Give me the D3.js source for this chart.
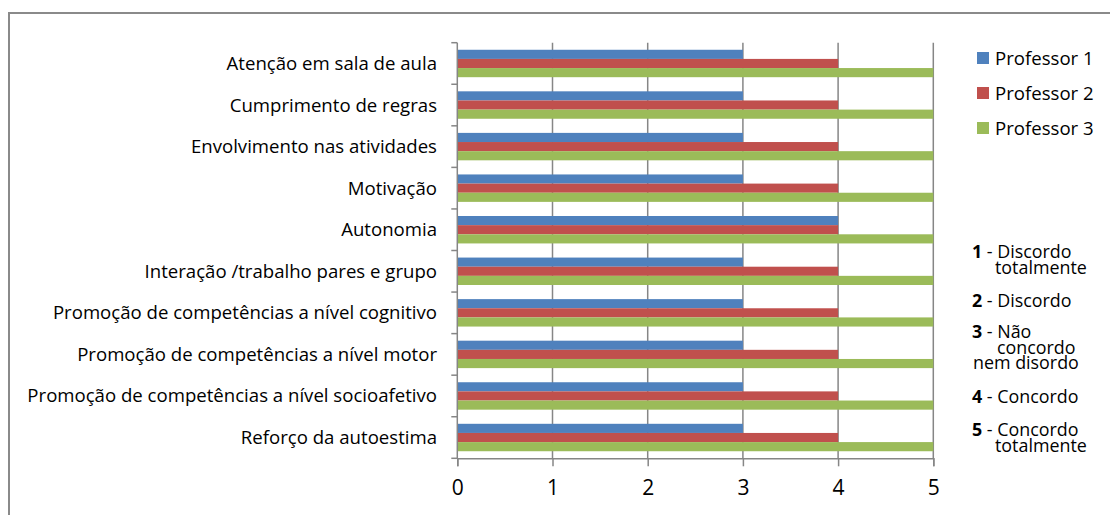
<!DOCTYPE html>
<html>
<head>
<meta charset="utf-8">
<script src="https://cdn.jsdelivr.net/npm/d3@7"></script>
<style>
  html, body { margin: 0; padding: 0; background: #fff; }
  svg { display: block; }
  text { font-family: "Open Sans", "Noto Sans", sans-serif; fill: #000; }
</style>
</head>
<body>
<svg id="chart" width="1110" height="515"></svg>
<script>
// Categories, top to bottom
const categories = [
  "Atenção em sala de aula",
  "Cumprimento de regras",
  "Envolvimento nas atividades",
  "Motivação",
  "Autonomia",
  "Interação /trabalho pares e grupo",
  "Promoção de competências a nível cognitivo",
  "Promoção de competências a nível motor",
  "Promoção de competências a nível socioafetivo",
  "Reforço da autoestima"
];
const seriesNames = ["Professor 1", "Professor 2", "Professor 3"];
const professor1 = [3, 3, 3, 3, 4, 3, 3, 3, 3, 3];
const professor2 = [4, 4, 4, 4, 4, 4, 4, 4, 4, 4];
const professor3 = [5, 5, 5, 5, 5, 5, 5, 5, 5, 5];
const xTicks = [0, 1, 2, 3, 4, 5];
const scaleNotes = [
  { num: "1", lines: [" - Discordo", "totalmente"] },
  { num: "2", lines: [" - Discordo"] },
  { num: "3", lines: [" - Não", "concordo", "nem disordo"] },
  { num: "4", lines: [" - Concordo"] },
  { num: "5", lines: [" - Concordo", "totalmente"] }
];
const colors = ["#4f81bd", "#c0504d", "#9bbb59"];

const seriesValues = [professor1, professor2, professor3];
const rows = categories.map((c, i) => ({
  category: c,
  values: seriesNames.map((s, j) => ({ series: s, value: seriesValues[j][i], idx: j }))
}));

const svg = d3.select("#chart");
const axisColor = "#868686";

// outer frame
svg.append("path")
  .attr("d", "M9,1200 L9,13 L1200,13")
  .attr("fill", "none")
  .attr("stroke", "#8a8a8a")
  .attr("stroke-width", 2);

const plot = { left: 457.3, right: 933.3, top: 42.7, bottom: 458.3 };

const x = d3.scaleLinear().domain([0, 5]).range([plot.left, plot.right]);
const y = d3.scaleBand().domain(categories).range([plot.top, plot.bottom])
  .paddingInner(0.34).paddingOuter(0.17);
const ySub = d3.scaleBand().domain(seriesNames).range([0, y.bandwidth()]).padding(0);

// vertical gridlines
svg.append("g").selectAll("line").data(xTicks.filter(t => t > 0)).join("line")
  .attr("x1", d => x(d)).attr("x2", d => x(d))
  .attr("y1", plot.top).attr("y2", plot.bottom)
  .attr("stroke", axisColor).attr("stroke-width", 1.5);

// bars
const groups = svg.append("g").selectAll("g").data(rows).join("g")
  .attr("transform", d => `translate(0,${y(d.category)})`);
groups.selectAll("rect").data(d => d.values).join("rect")
  .attr("x", x(0))
  .attr("y", d => ySub(d.series))
  .attr("width", d => x(d.value) - x(0))
  .attr("height", ySub.bandwidth())
  .attr("fill", d => colors[d.idx]);

// x axis
const xAxis = d3.axisBottom(x).tickValues(xTicks).tickSize(8).tickPadding(14)
  .tickFormat(d3.format("d"));
const gx = svg.append("g").attr("transform", `translate(0,${plot.bottom})`).call(xAxis);
gx.select(".domain").attr("stroke", axisColor).attr("stroke-width", 1.5);
gx.selectAll(".tick line").attr("stroke", axisColor).attr("stroke-width", 1.5);
gx.selectAll(".tick text")
  .attr("font-family", "'Open Sans', sans-serif")
  .attr("font-size", 21).attr("fill", "#000");

// y axis: line with ticks on category boundaries
const boundaries = d3.range(categories.length + 1).map(i => plot.top + i * y.step());
svg.append("line")
  .attr("x1", plot.left).attr("x2", plot.left)
  .attr("y1", plot.top).attr("y2", plot.bottom)
  .attr("stroke", axisColor).attr("stroke-width", 1.5);
svg.append("g").selectAll("line").data(boundaries).join("line")
  .attr("x1", plot.left - 6).attr("x2", plot.left)
  .attr("y1", d => d).attr("y2", d => d)
  .attr("stroke", axisColor).attr("stroke-width", 1.5);

// category labels
const labels = svg.append("g").selectAll("text").data(categories).join("text")
  .attr("x", 437)
  .attr("y", d => y(d) + y.bandwidth() / 2)
  .attr("dy", "0.35em")
  .attr("text-anchor", "end")
  .attr("font-size", 16)
  .text(d => d);
// fit the longest label to its available width
const longest = d3.max(labels.nodes(), n => n.getComputedTextLength());
const labelSize = 16 * 410 / longest;
labels.attr("font-size", labelSize);

// legend
const legend = svg.append("g").selectAll("g").data(seriesNames).join("g")
  .attr("transform", (d, i) => `translate(977,${58 + i * 35})`);
legend.append("rect").attr("x", 0).attr("y", -6).attr("width", 12).attr("height", 12)
  .attr("fill", (d, i) => colors[i]);
legend.append("text").attr("x", 18).attr("dy", "0.35em")
  .attr("font-size", labelSize).text(d => d);

// scale notes: one text block per note, wrapped lines as tspans
const notePos = [
  { y: 258, xs: [972, 995] },
  { y: 307, xs: [972] },
  { y: 338, xs: [972, 997, 973] },
  { y: 403, xs: [972] },
  { y: 436, xs: [972, 995] }
];
const noteLine = 15.5;
const noteSize = labelSize * 0.96;
const notes = svg.append("g");
scaleNotes.forEach((n, i) => {
  const p = notePos[i];
  const t = notes.append("text")
    .attr("x", p.xs[0])
    .attr("y", p.y)
    .attr("font-size", noteSize);
  n.lines.forEach((line, k) => {
    if (k === 0) {
      t.append("tspan").attr("font-weight", "bold").text(n.num);
      t.append("tspan").text(line);
    } else {
      t.append("tspan").attr("x", p.xs[k]).attr("y", p.y + k * noteLine).text(line);
    }
  });
});
</script>
</body>
</html>
